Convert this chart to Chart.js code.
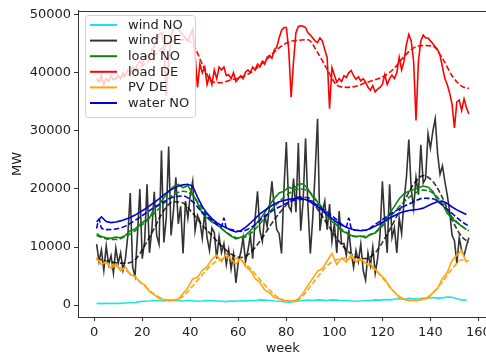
<!DOCTYPE html>
<html>
<head>
<meta charset="utf-8">
<script src="https://cdn.jsdelivr.net/npm/chart.js@4.4.0/dist/chart.umd.min.js"></script>
<style>
  html, body { margin: 0; padding: 0; background: #fff; overflow: hidden; }
  #wrap { width: 495px; height: 358px; }
</style>
</head>
<body>
<div id="wrap"><canvas id="chart" width="495" height="358"></canvas></div>
<script>
/* ── data (MW per week) ─────────────────────────────────────────── */
const weeks  = Array.from({ length: 156 }, (_, i) => i + 1);
const weeks2 = Array.from({ length: 78 }, (_, i) => 1 + 2 * i);
const weeks4 = [1, 5, 9, 13, 17, 21, 25, 29, 33, 37, 41, 45, 49, 53, 57, 61, 65, 69, 73, 77,
                81, 85, 89, 93, 97, 101, 105, 109, 113, 117, 121, 125, 129, 133, 137, 141, 145, 149, 153, 156];
const waterDashWeeks = [1, 2, 3, 5, 9, 13, 17, 21, 25, 29, 33, 37, 41, 45, 49, 53, 54, 55, 57, 61,
                        65, 69, 73, 77, 81, 85, 89, 93, 97, 101, 105, 106, 107, 109, 113, 117, 121, 125, 129, 133,
                        137, 141, 145, 149, 153, 156];

const xTicks = [0, 20, 40, 60, 80, 100, 120, 140, 160];
const yTicks = [0, 10000, 20000, 30000, 40000, 50000];
const legendNames = ['wind NO', 'wind DE', 'load NO', 'load DE', 'PV DE', 'water NO'];

// weekly
const windDE = [
  10500, 7500, 9500, 6000, 10200, 7000, 8500, 5500, 9800, 7200,
  9000, 6000, 8000, 12000, 19300, 6500, 5000, 12000, 20000, 8000,
  11000, 20800, 9000, 13000, 19500, 12000, 10500, 26600, 10800, 15000,
  27300, 12000, 16200, 22000, 14000, 17000, 8900, 17900, 15000, 19000,
  21300, 12800, 15500, 14500, 11500, 16000, 11600, 9400, 13300, 12500,
  8000, 11800, 9000, 10600, 7000, 9500, 6200, 8800, 3800, 7500,
  9000, 11600, 7500, 9400, 12000, 8000, 15000, 19600, 12800, 11000,
  15500, 13500, 17000, 21300, 16700, 13000, 12300, 8900, 20000, 28100,
  17000, 16200, 21800, 16000, 27900, 12800, 18000, 28700, 17000, 8900,
  15000, 23000, 32100, 12800, 16000, 17900, 13000, 17400, 11000, 14000,
  9000, 16200, 10500, 10600, 8500, 13000, 9000, 6500, 9400, 7500,
  10500, 6000, 4300, 9000, 6800, 10000, 5500, 8000, 12000, 21300,
  14000, 9000, 20800, 11600, 13300, 9000, 15000, 12300, 18000, 22000,
  28500, 20000, 16700, 22000, 19000, 27600, 21000, 21800, 29500, 27000,
  29900, 32100, 26000, 22500, 24000, 21300, 19000, 16200, 12000, 11100,
  7200, 11600, 9400, 8500, 10200, 11600
];
const loadDE = [
  39000, 38500, 39500, 38000, 39000, 38500, 39500, 38800, 39000, 39500,
  39000, 40000, 39500, 40500, 40000, 41000, 40500, 41500, 42000, 41500,
  42500, 43000, 42500, 44000, 44500, 45500, 46500, 47000, 45000, 36000,
  42000, 46500, 47500, 47800, 47500, 47000, 46500, 46000, 45500, 46500,
  47500, 43000, 37500, 41500, 40000, 41000, 38000, 39500, 38000, 40500,
  39000, 41000, 40500, 41000, 39500, 39700, 39000, 40000, 38500, 39000,
  39500, 39000, 40100, 40500, 40000, 41000, 40500, 41500, 41000, 42000,
  41500, 42700, 43000, 42500, 44000, 44400, 46000, 47300, 47800, 47800,
  44000, 35800, 42000, 46900, 48000, 48100, 48000, 47800, 46900, 46500,
  46000, 45500, 45200, 46000, 45500, 44000, 42600, 33800, 40900, 39600,
  38400, 39000, 38500, 39500, 39200, 40000, 40400, 39500, 38900, 39300,
  38600, 39000, 38400, 37500, 37000, 37800, 36700, 37200, 37500, 38000,
  39700, 38000, 39000, 39600, 39000, 40000, 42700, 40500, 42000, 44900,
  46600, 45500, 42000, 31800, 42000, 45500, 46500, 46000, 46000, 45500,
  45000, 44500, 44000, 43000, 41000, 39000, 38000, 36500, 34600, 30500,
  35000, 35300, 33500, 35500, 34000, 32900
];

// every second week
const windNO = [
  300, 250, 300, 280, 320, 300, 350, 400, 450, 600,
  650, 700, 800, 750, 700, 850, 800, 750, 700, 800,
  750, 650, 700, 800, 750, 700, 650, 600, 700, 650,
  750, 700, 800, 750, 900, 850, 800, 700, 650, 600,
  500, 600, 700, 800, 850, 800, 900, 850, 800, 900,
  850, 750, 800, 700, 650, 700, 800, 750, 900, 850,
  950, 900, 1000, 1100, 1000, 1150, 1100, 1050, 1200, 1150,
  1300, 1200, 1250, 1400, 1350, 1100, 900, 850
];
const loadNO = [
  12300, 11800, 11600, 11500, 11700, 11600, 12000, 12800, 13100, 13900,
  14500, 15000, 16700, 17200, 18500, 19600, 20400, 20800, 20200, 20600,
  19100, 17600, 15800, 15000, 14300, 13900, 13200, 12500, 11900, 11400,
  11700, 12000, 12800, 13800, 14800, 15900, 17200, 18400, 19300, 19600,
  20300, 20000, 20800, 20900, 20000, 18600, 17700, 16400, 15400, 14400,
  13800, 12800, 12400, 12000, 11800, 11900, 11600, 12200, 12400, 13400,
  14500, 15800, 17000, 18300, 19200, 19600, 19900, 20200, 20500, 20300,
  19600, 18000, 17400, 15800, 14900, 14200, 13600, 13000
];
const pvDE = [
  8200, 7000, 7400, 6300, 7000, 5900, 6600, 5200, 5000, 3900,
  3500, 2300, 1800, 1100, 950, 750, 900, 1000, 2000, 3000,
  4500, 4800, 6000, 6600, 7900, 8600, 7500, 8800, 7900, 7100,
  8000, 6600, 6000, 4600, 3900, 2600, 2100, 1300, 1100, 750,
  800, 650, 1100, 2100, 3400, 4600, 5800, 6300, 7600, 8900,
  7000, 8100, 7400, 8700, 7400, 8000, 7200, 7100, 6200, 5300,
  4500, 3100, 2200, 1300, 1000, 750, 900, 800, 1100, 1200,
  2100, 2900, 4600, 5600, 7700, 8600, 9400, 7300
];
const waterNO = [
  14300, 15200, 14400, 14200, 14300, 14500, 14800, 15100, 15500, 16000,
  16500, 17100, 17700, 18300, 19000, 19600, 20100, 20500, 20700, 20800,
  20500, 18600, 17000, 15800, 14900, 14200, 13700, 13300, 12900, 12600,
  12800, 13400, 14100, 14900, 15700, 16300, 16900, 17400, 17800, 18000,
  18200, 18300, 18400, 18300, 18000, 17500, 16900, 16300, 15600, 14900,
  14300, 13800, 13400, 13100, 12900, 12800, 12900, 13200, 13600, 14000,
  14500, 15000, 15400, 15800, 16100, 16300, 16400, 16500, 16700, 17100,
  17500, 17800, 17900, 17500, 16900, 16400, 16000, 15600
];

// smoothed (dashed) curves, every fourth week
const windDEDash = [
  8000, 7600, 7300, 7200, 7800, 10200, 13200, 16300, 17800, 17600,
  15800, 13800, 12000, 10200, 8800, 8200, 9000, 11000, 13500, 15800,
  17600, 18600, 18500, 16500, 14000, 11500, 9500, 8300, 8000, 9000,
  11500, 14500, 17800, 20800, 22300, 21300, 18500, 14700, 11800, 10800
];
const loadNODash = [
  12000, 11400, 11300, 11800, 12800, 14200, 15800, 17500, 19000, 19600,
  18900, 16600, 14600, 13200, 12000, 11500, 12300, 14000, 16000, 17800,
  19200, 20000, 19700, 17800, 15800, 13800, 12500, 11800, 11900, 12500,
  14000, 16000, 17800, 19100, 19800, 19300, 17500, 15200, 13600, 12800
];
const loadDEDash = [
  38500, 38800, 39000, 39500, 40300, 41500, 43000, 44500, 45500, 45700,
  45000, 41500, 38500, 38300, 38800, 39200, 40000, 41300, 42800, 44300,
  45300, 45600, 45700, 43500, 40600, 37900, 37500, 37700, 38300, 38800,
  39500, 40800, 42800, 44300, 44700, 44600, 42500, 39500, 37700, 37300
];
const pvDEDash = [
  7800, 7300, 6700, 6000, 4800, 3300, 1900, 1000, 800, 1500,
  3300, 5200, 7000, 7900, 8200, 7700, 6300, 4400, 2600, 1200,
  700, 900, 2700, 4800, 6800, 7800, 8100, 8000, 7200, 6000,
  4200, 2300, 1000, 750, 1000, 2100, 4000, 6200, 7800, 7600
];
const waterNODash = [
  13200, 14800, 13300, 13000, 13100, 13600, 14600, 15700, 16800, 17800,
  18600, 18800, 17800, 16000, 14600, 13500, 15000, 13300, 13000, 12700,
  13300, 14600, 15900, 16900, 17700, 18200, 18100, 17200, 16000, 14700,
  13500, 15000, 13300, 12900, 12900, 13900, 15000, 16100, 17000, 17800,
  18400, 18300, 17200, 15800, 14400, 13600
];

/* ── colours ─────────────────────────────────────────────────────── */
const C = {
  windNO: '#1fe3e6',
  windDE: 'rgba(0,0,0,0.8)',
  loadNO: '#0f820f',
  loadDE: '#ff0000',
  pvDE:   '#ffa514',
  water:  '#0000dc',
};
const legendColors = [C.windNO, C.windDE, C.loadNO, C.loadDE, C.pvDE, C.water];

const pts = (xs, ys) => ys.map((y, i) => ({ x: xs[i], y }));

function solid(xs, ys, color) {
  return { data: pts(xs, ys), borderColor: color, borderWidth: 1.6, pointRadius: 0, tension: 0, fill: false };
}
function dashed(xs, ys, color) {
  return { data: pts(xs, ys), borderColor: color, borderWidth: 1.6, pointRadius: 0, borderDash: [5.5, 2.4],
           cubicInterpolationMode: 'monotone', fill: false };
}

const datasets = [
  solid(weeks2, windNO, C.windNO),
  solid(weeks, windDE, C.windDE),
  dashed(weeks4, windDEDash, C.windDE),
  solid(weeks2, loadNO, C.loadNO),
  dashed(weeks4, loadNODash, C.loadNO),
  solid(weeks, loadDE, C.loadDE),
  dashed(weeks4, loadDEDash, C.loadDE),
  solid(weeks2, pvDE, C.pvDE),
  dashed(weeks4, pvDEDash, C.pvDE),
  solid(weeks2, waterNO, C.water),
  dashed(waterDashWeeks, waterNODash, C.water),
];
// later series drawn on top
datasets.forEach((d, i) => { d.order = datasets.length - i; });

/* ── frame + legend ──────────────────────────────────────────────── */
const framePlugin = {
  id: 'frame',
  afterDatasetsDraw(chart) {
    const { ctx, chartArea: a } = chart;
    ctx.save();
    ctx.strokeStyle = '#333';
    ctx.lineWidth = 1;
    ctx.strokeRect(Math.round(a.left) + 0.5, Math.round(a.top) + 0.5,
                   Math.round(a.right - a.left), Math.round(a.bottom - a.top));

    // legend box, upper left
    const bx = 85.5, by = 15.5, bw = 110, bh = 102, r = 3;
    ctx.beginPath();
    ctx.moveTo(bx + r, by);
    ctx.arcTo(bx + bw, by, bx + bw, by + bh, r);
    ctx.arcTo(bx + bw, by + bh, bx, by + bh, r);
    ctx.arcTo(bx, by + bh, bx, by, r);
    ctx.arcTo(bx, by, bx + bw, by, r);
    ctx.closePath();
    ctx.fillStyle = 'rgba(255,255,255,0.8)';
    ctx.fill();
    ctx.strokeStyle = '#d0d0d0';
    ctx.stroke();

    ctx.font = "13px 'DejaVu Sans'";
    ctx.textBaseline = 'middle';
    legendNames.forEach((name, i) => {
      const y = 25 + i * 15.6;
      ctx.beginPath();
      ctx.moveTo(90, y);
      ctx.lineTo(117, y);
      ctx.strokeStyle = legendColors[i];
      ctx.lineWidth = 2;
      ctx.stroke();
      ctx.fillStyle = '#222';
      ctx.fillText(name, 128, y + 0.5);
    });
    ctx.restore();
  }
};

/* ── chart ───────────────────────────────────────────────────────── */
Chart.defaults.font.family = "'DejaVu Sans', sans-serif";
Chart.defaults.font.size = 13;
Chart.defaults.color = '#222';

new Chart(document.getElementById('chart'), {
  type: 'line',
  data: { datasets },
  options: {
    responsive: false,
    animation: false,
    devicePixelRatio: 1,
    layout: { padding: { top: 8, right: 6, left: 0, bottom: 0 } },
    plugins: { legend: { display: false }, tooltip: { enabled: false } },
    scales: {
      x: {
        type: 'linear',
        min: -6.75,
        max: 163.75,
        afterBuildTicks: s => { s.ticks = xTicks.map(v => ({ value: v })); },
        afterFit: s => { s.height = 41; },
        grid: { display: true, drawOnChartArea: false, drawTicks: true, tickLength: 4, color: '#333' },
        border: { display: true, color: '#333' },
        ticks: { padding: 4, maxRotation: 0, autoSkip: false, color: '#222' },
        title: { display: true, text: 'week', color: '#222', padding: { top: 0, bottom: 2 } },
      },
      y: {
        type: 'linear',
        min: -2050,
        max: 50680,
        afterBuildTicks: s => { s.ticks = yTicks.map(v => ({ value: v })); },
        afterFit: s => { s.width = 78; },
        grid: { display: true, drawOnChartArea: false, drawTicks: true, tickLength: 4, color: '#333' },
        border: { display: true, color: '#333' },
        ticks: { padding: 3, color: '#222', callback: v => String(v) },
        title: { display: true, text: 'MW', color: '#222', padding: { top: 10, bottom: 0 } },
      },
    },
  },
  plugins: [framePlugin],
});
</script>
</body>
</html>
